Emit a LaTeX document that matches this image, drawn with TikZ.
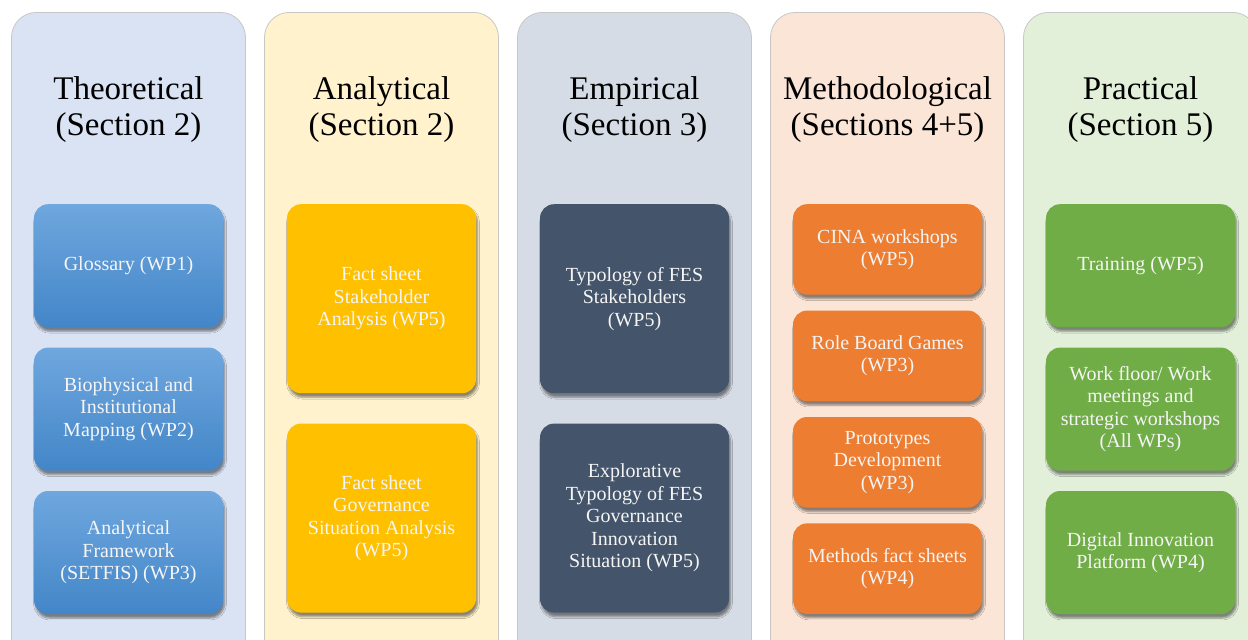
\documentclass[tikz,border=0pt]{standalone}
\usepackage{fontspec}
\setmainfont{Liberation Serif}
\usepackage{xcolor}
\usetikzlibrary{positioning, shadows.blur}

\definecolor{theoback}{HTML}{DAE3F3}
\definecolor{analback}{HTML}{FFF2CC}
\definecolor{empiback}{HTML}{D6DCE5}
\definecolor{methback}{HTML}{FBE5D6}
\definecolor{pracback}{HTML}{E2F0D9}
\definecolor{bluetop}{HTML}{6FA7DE}
\definecolor{bluebottom}{HTML}{4386C8}
\definecolor{goldtask}{HTML}{FFC000}
\definecolor{slatetask}{HTML}{44546A}
\definecolor{orangetask}{HTML}{ED7D31}
\definecolor{greentask}{HTML}{70AD47}

\begin{document}
\begin{tikzpicture}[x=1pt, y=-1pt, node distance=20pt]
    % Define styles
    \tikzstyle{column} = [rectangle, rounded corners=25pt, minimum width=234pt, minimum height=660pt, anchor=north, draw=black!22, line width=0.8pt]
    \tikzstyle{heading} = [align=center, text=black, font=\fontsize{33}{36}\selectfont]
    \tikzstyle{task} = [rectangle, rounded corners=14pt, minimum width=189pt, anchor=north, align=center, text=white!96!black, font=\fontsize{20}{22.5}\selectfont, blur shadow={shadow xshift=1.5pt, shadow yshift=-4pt, shadow blur steps=6, shadow opacity=45}]
    \tikzstyle{bluetask} = [top color=bluetop, bottom color=bluebottom]

    \fill[white] (0,0) rectangle (1248,640);
    \useasboundingbox (0,0) rectangle (1248,640);

    % Columns
    \node (theocol) [column, fill=theoback] at (128.5,12) {};
    \node (analcol) [column, fill=analback] at (381.5,12) {};
    \node (empicol) [column, fill=empiback] at (634.5,12) {};
    \node (methcol) [column, fill=methback] at (887.5,12) {};
    \node (praccol) [column, fill=pracback] at (1140.5,12) {};

    % Headings
    \node (theohead) [heading] at (128.5,110) {Theoretical\\(Section 2)};
    \node (analhead) [heading] at (381.5,110) {Analytical\\(Section 2)};
    \node (empihead) [heading] at (634.5,110) {Empirical\\(Section 3)};
    \node (methhead) [heading] at (887.5,110) {Methodological\\(Sections 4+5)};
    \node (prachead) [heading] at (1140.5,110) {Practical\\(Section 5)};

    % Theoretical
    \node (glossary) [task, bluetask, minimum height=123pt] at (128.5,204) {Glossary (WP1)};
    \node (mapping) [task, bluetask, minimum height=123pt, below=of glossary] {Biophysical and\\Institutional\\Mapping (WP2)};
    \node (setfis) [task, bluetask, minimum height=123pt, below=of mapping] {Analytical\\Framework\\(SETFIS) (WP3)};

    % Analytical
    \node (stakesheet) [task, fill=goldtask, minimum height=189pt] at (381.5,204) {Fact sheet\\Stakeholder\\Analysis (WP5)};
    \node (govsheet) [task, fill=goldtask, minimum height=189pt, below=30pt of stakesheet] {Fact sheet\\Governance\\Situation Analysis\\(WP5)};

    % Empirical
    \node (staketype) [task, fill=slatetask, minimum height=189pt] at (634.5,204) {Typology of FES\\Stakeholders\\(WP5)};
    \node (govtype) [task, fill=slatetask, minimum height=189pt, below=30pt of staketype] {Explorative\\Typology of FES\\Governance\\Innovation\\Situation (WP5)};

    % Methodological
    \node (cina) [task, fill=orangetask, minimum height=90.5pt] at (887.5,204) {CINA workshops\\(WP5)};
    \node (games) [task, fill=orangetask, minimum height=90.5pt, below=15.5pt of cina] {Role Board Games\\(WP3)};
    \node (protos) [task, fill=orangetask, minimum height=90.5pt, below=15.5pt of games] {Prototypes\\Development\\(WP3)};
    \node (methsheet) [task, fill=orangetask, minimum height=90.5pt, below=15.5pt of protos] {Methods fact sheets\\(WP4)};

    % Practical
    \node (training) [task, fill=greentask, minimum height=123pt] at (1140.5,204) {Training (WP5)};
    \node (workfloor) [task, fill=greentask, minimum height=123pt, below=of training] {Work floor/ Work\\meetings and\\strategic workshops\\(All WPs)};
    \node (platform) [task, fill=greentask, minimum height=123pt, below=of workfloor] {Digital Innovation\\Platform (WP4)};
\end{tikzpicture}
\end{document}
